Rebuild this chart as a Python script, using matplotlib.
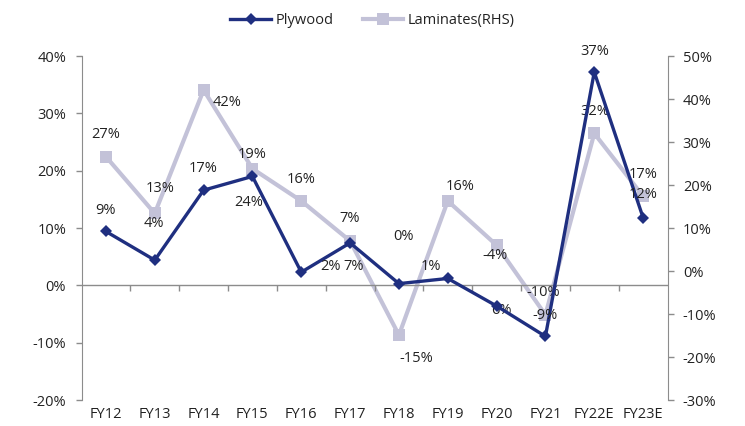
import matplotlib
matplotlib.use("Agg")
import matplotlib.pyplot as plt
from matplotlib.ticker import FuncFormatter
import numpy as np

plt.rcParams['font.family'] = ['Open Sans', 'DejaVu Sans']

# ---- data -----------------------------------------------------------------
categories = ["FY12", "FY13", "FY14", "FY15", "FY16", "FY17",
              "FY18", "FY19", "FY20", "FY21", "FY22E", "FY23E"]
plywood = [9.4, 4.4, 16.6, 19.0, 2.3, 7.4, 0.3, 1.2, -3.6, -8.9, 37.2, 11.8]
laminates = [26.6, 13.4, 42.1, 23.8, 16.3, 7.0, -14.9, 16.3, 6.0, -10.2, 32.0, 17.4]

# data-label placement (pixel offsets from each point: dx, dy upward)
ply_offsets = [(0, 21), (-1, 37), (0, 22), (0, 22), (29, 6), (0, 24),
               (5, 47), (-17, 12), (-2, 50), (0, 21), (0, 21), (0, 23)]
lam_offsets = [(0, 22), (5, 25), (23, -13), (-4, -34), (0, 21), (4, -26),
               (17, -23), (12, 14), (5, -65), (-2, 22), (0, 22), (0, 22)]

# ---- style ----------------------------------------------------------------
NAVY = "#1f2f80"
LAV = "#c3c2d8"
AXIS_GREY = "#8c8c8c"
TEXT = "#222222"
FS = 10.5

fig = plt.figure(figsize=(7.45, 4.26), dpi=100)
ax = fig.add_axes([0.1094, 0.061, 0.7866, 0.8075])
ax2 = ax.twinx()

x = np.arange(len(categories))

l2, = ax2.plot(x, laminates, color=LAV, lw=3.0, marker="s", ms=8.5,
               markeredgewidth=0, label="Laminates(RHS)", zorder=2)
l1, = ax.plot(x, plywood, color=NAVY, lw=2.4, marker="D", ms=6,
              markeredgewidth=0, label="Plywood", zorder=3)

# plywood axis on top so its line is drawn above the laminates line
ax.set_zorder(ax2.get_zorder() + 1)
ax.patch.set_visible(False)

ax.set_xlim(-0.5, len(categories) - 0.5)
ax.set_ylim(-20, 40)
ax2.set_ylim(-30, 50)
ax.set_yticks(np.arange(-20, 41, 10))
ax2.set_yticks(np.arange(-30, 51, 10))
pct = FuncFormatter(lambda v, p: f"{v:.0f}%")
ax.yaxis.set_major_formatter(pct)
ax2.yaxis.set_major_formatter(pct)

for a in (ax, ax2):
    for s in ("top", "bottom"):
        a.spines[s].set_visible(False)
    a.tick_params(axis="y", length=4, width=1, color=AXIS_GREY,
                  labelsize=FS, labelcolor=TEXT)
ax.spines["left"].set_color(AXIS_GREY)
ax.spines["right"].set_visible(False)
ax2.spines["left"].set_visible(False)
ax2.spines["right"].set_color(AXIS_GREY)
ax.tick_params(axis="y", pad=7)
ax2.tick_params(axis="y", pad=7)

# category labels at the bottom, axis line through zero
ax.set_xticks(x)
ax.set_xticklabels(categories)
ax.tick_params(axis="x", length=0, labelsize=FS, labelcolor=TEXT, pad=5)
ax.axhline(0, color=AXIS_GREY, lw=1, zorder=1)
bounds = np.arange(0.5, len(categories) - 0.5, 1.0)
ax.vlines(bounds, -0.9, 0, color=AXIS_GREY, lw=1, zorder=1)

# data labels
for i, v in enumerate(plywood):
    dx, dy = ply_offsets[i]
    ax.annotate(f"{v:.0f}%", (x[i], v), xytext=(dx, dy),
                textcoords="offset pixels", ha="center", va="center",
                fontsize=FS, color=TEXT, zorder=5)
for i, v in enumerate(laminates):
    dx, dy = lam_offsets[i]
    ax2.annotate(f"{v:.0f}%", (x[i], v), xytext=(dx, dy),
                 textcoords="offset pixels", ha="center", va="center",
                 fontsize=FS, color=TEXT, zorder=5)

fig.legend(handles=[l1, l2], loc="upper center", bbox_to_anchor=(0.5, 1.0),
           ncol=2, frameon=False, fontsize=FS, handlelength=2.8,
           columnspacing=2.0, handletextpad=0.3, labelcolor=TEXT)

fig.savefig("out.png", dpi=100)
